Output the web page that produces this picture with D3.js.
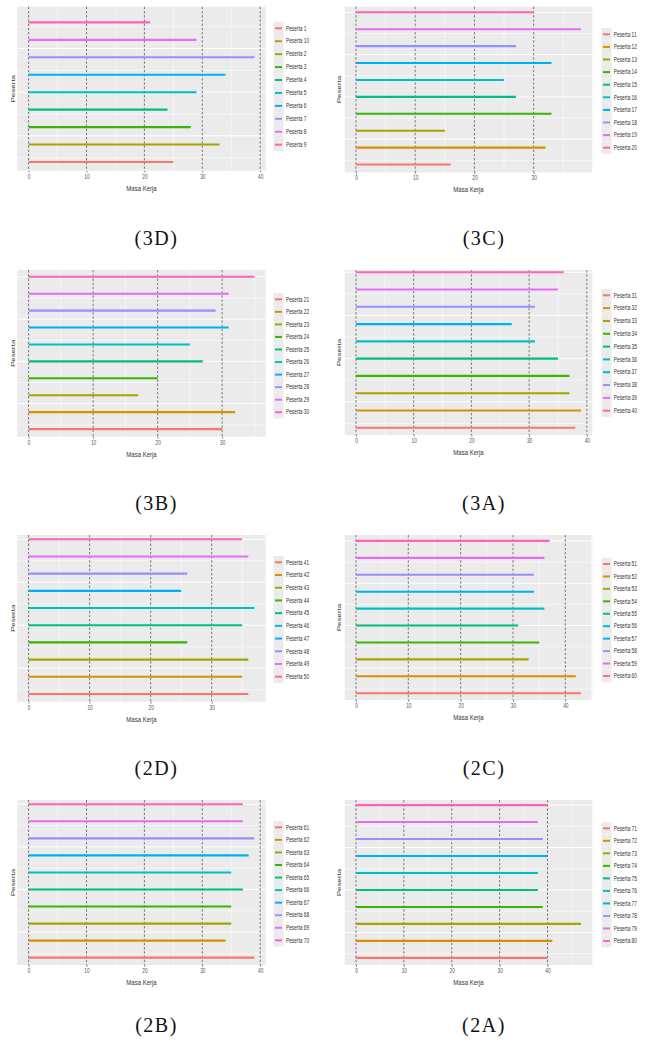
<!DOCTYPE html>
<html>
<head>
<meta charset="utf-8">
<script src="https://cdn.jsdelivr.net/npm/d3@7"></script>
<style>
  body { margin: 0; background: #fff; }
  svg { display: block; }
</style>
</head>
<body>
<script>
const W = 646, H = 1047;

// panel captions, in reading order
const panelIds = ["3D", "3C", "3B", "3A", "2D", "2C", "2B", "2A"];

// participants (legend order) and their Masa Kerja
const peserta3D = ["Peserta 1", "Peserta 10", "Peserta 2", "Peserta 3", "Peserta 4", "Peserta 5", "Peserta 6", "Peserta 7", "Peserta 8", "Peserta 9"];
const masa3D = [25, null, 33, 28, 24, 29, 34, 39, 29, 21];

const peserta3C = ["Peserta 11", "Peserta 12", "Peserta 13", "Peserta 14", "Peserta 15", "Peserta 16", "Peserta 17", "Peserta 18", "Peserta 19", "Peserta 20"];
const masa3C = [16, 32, 15, 33, 27, 25, 33, 27, 38, 30];

const peserta3B = ["Peserta 21", "Peserta 22", "Peserta 23", "Peserta 24", "Peserta 25", "Peserta 26", "Peserta 27", "Peserta 28", "Peserta 29", "Peserta 30"];
const masa3B = [30, 32, 17, 20, 27, 25, 31, 29, 31, 35];

const peserta3A = ["Peserta 31", "Peserta 32", "Peserta 33", "Peserta 34", "Peserta 35", "Peserta 36", "Peserta 37", "Peserta 38", "Peserta 39", "Peserta 40"];
const masa3A = [38, 39, 37, 37, 35, 31, 27, 31, 35, 36];

const peserta2D = ["Peserta 41", "Peserta 42", "Peserta 43", "Peserta 44", "Peserta 45", "Peserta 46", "Peserta 47", "Peserta 48", "Peserta 49", "Peserta 50"];
const masa2D = [36, 35, 36, 26, 35, 37, 25, 26, 36, 35];

const peserta2C = ["Peserta 51", "Peserta 52", "Peserta 53", "Peserta 54", "Peserta 55", "Peserta 56", "Peserta 57", "Peserta 58", "Peserta 59", "Peserta 60"];
const masa2C = [43, 42, 33, 35, 31, 36, 34, 34, 36, 37];

const peserta2B = ["Peserta 61", "Peserta 62", "Peserta 63", "Peserta 64", "Peserta 65", "Peserta 66", "Peserta 67", "Peserta 68", "Peserta 69", "Peserta 70"];
const masa2B = [39, 34, 35, 35, 37, 35, 38, 39, 37, 37];

const peserta2A = ["Peserta 71", "Peserta 72", "Peserta 73", "Peserta 74", "Peserta 75", "Peserta 76", "Peserta 77", "Peserta 78", "Peserta 79", "Peserta 80"];
const masa2A = [40, 41, 47, 39, 38, 38, 40, 39, 38, 40];

// first participant number of each panel (y position = number - first + 1)
const firstNo = [1, 11, 21, 31, 41, 51, 61, 71];

// y axis breaks (no labels shown)
const yMajor = [2.5, 5, 7.5, 10];
const yMinor = [1.25, 3.75, 6.25, 8.75];

// ggplot hue palette
const colors = ["#F8766D", "#D89000", "#A3A500", "#39B600", "#00BF7D", "#00BFC4", "#00B0F6", "#9590FF", "#E76BF3", "#FF62BC"];

const allNames = [peserta3D, peserta3C, peserta3B, peserta3A, peserta2D, peserta2C, peserta2B, peserta2A];
const allValues = [masa3D, masa3C, masa3B, masa3A, masa2D, masa2C, masa2B, masa2A];

// layout of each panel as measured on the page
const cols = [
  { x0: 17.3, x1: 265.7, keyX: 273.5, labelX: 286, titleX: 11.7, capX: 156.5 },
  { x0: 344.7, x1: 592.3, keyX: 601.5, labelX: 613.8, titleX: 338, capX: 484 }
];
const layout = [
  { y0: 6.7, y1: 170.7, yDom: [0.5, 9.9], legY: 28.3, legStep: 12.93, capY: 245 },
  { y0: 6.7, y1: 172.3, yDom: [0.54, 10.33], legY: 34.3, legStep: 12.6, capY: 245 },
  { y0: 270, y1: 436.7, yDom: [0.55, 10.4], legY: 299.3, legStep: 12.55, capY: 510 },
  { y0: 270, y1: 435, yDom: [0.58, 10.13], legY: 295.3, legStep: 12.82, capY: 510 },
  { y0: 535, y1: 701.7, yDom: [0.55, 10.25], legY: 562.3, legStep: 12.71, capY: 775 },
  { y0: 535, y1: 700, yDom: [0.6, 10.35], legY: 564, legStep: 12.44, capY: 775 },
  { y0: 800, y1: 965, yDom: [0.57, 10.25], legY: 827.3, legStep: 12.56, capY: 1032 },
  { y0: 800, y1: 965, yDom: [0.58, 10.3], legY: 828.3, legStep: 12.52, capY: 1032 }
];

const SQ = 0.75; // the source image is squeezed horizontally
const sans = "'Liberation Sans', Arial, sans-serif";

const svg = d3.select("body").append("svg")
  .attr("width", W)
  .attr("height", H);

function drawPanel(idx) {
  const col = cols[idx % 2];
  const lay = layout[idx];
  const names = allNames[idx];
  const values = allValues[idx];
  const g = svg.append("g");

  const maxV = d3.max(values);
  const x = d3.scaleLinear()
    .domain([-0.05 * maxV, 1.05 * maxV])
    .range([col.x0, col.x1]);
  const y = d3.scaleLinear()
    .domain(lay.yDom)
    .range([lay.y1, lay.y0]);

  const xTicks = x.ticks(5);
  const step = xTicks[1] - xTicks[0];
  const xMinor = xTicks.map(t => t + step / 2).filter(t => t <= x.domain()[1]);
  const inY = v => v >= lay.yDom[0] && v <= lay.yDom[1];

  // panel background
  g.append("rect")
    .attr("x", col.x0).attr("y", lay.y0)
    .attr("width", col.x1 - col.x0).attr("height", lay.y1 - lay.y0)
    .attr("fill", "#EBEBEB");

  // grid
  g.selectAll(".ymin").data(yMinor.filter(inY)).enter().append("line")
    .attr("x1", col.x0).attr("x2", col.x1)
    .attr("y1", d => y(d)).attr("y2", d => y(d))
    .attr("stroke", "#fff").attr("stroke-width", 0.5);
  g.selectAll(".ymaj").data(yMajor.filter(inY)).enter().append("line")
    .attr("x1", col.x0).attr("x2", col.x1)
    .attr("y1", d => y(d)).attr("y2", d => y(d))
    .attr("stroke", "#fff").attr("stroke-width", 1);
  g.selectAll(".xmin").data(xMinor).enter().append("line")
    .attr("x1", d => x(d)).attr("x2", d => x(d))
    .attr("y1", lay.y0).attr("y2", lay.y1)
    .attr("stroke", "#fff").attr("stroke-width", 0.5);
  g.selectAll(".xmaj").data(xTicks).enter().append("line")
    .attr("x1", d => x(d)).attr("x2", d => x(d))
    .attr("y1", lay.y0).attr("y2", lay.y1)
    .attr("stroke", "#fff").attr("stroke-width", 0.8);

  // dashed reference lines
  g.selectAll(".dash").data(xTicks).enter().append("line")
    .attr("x1", d => x(d)).attr("x2", d => x(d))
    .attr("y1", lay.y0).attr("y2", lay.y1)
    .attr("stroke", "#555").attr("stroke-width", 0.8)
    .attr("stroke-dasharray", "2.6,1.6");

  // segments
  const rows = names.map((n, i) => ({
    name: n,
    value: values[i],
    pos: +n.split(" ")[1] - firstNo[idx] + 1,
    color: colors[i]
  })).filter(d => d.value != null && inY(d.pos));

  g.selectAll(".seg").data(rows).enter().append("line")
    .attr("x1", x(0)).attr("x2", d => x(d.value))
    .attr("y1", d => y(d.pos)).attr("y2", d => y(d.pos))
    .attr("stroke", d => d.color)
    .attr("stroke-width", 2.1);

  // x axis
  const ax = g.append("g")
    .attr("transform", `translate(0,${lay.y1})`)
    .call(d3.axisBottom(x).ticks(5).tickSize(2).tickPadding(1.5));
  ax.select(".domain").remove();
  ax.selectAll(".tick line").attr("stroke", "#444").attr("stroke-width", 0.6);
  ax.selectAll(".tick text")
    .attr("fill", "#555")
    .attr("font-family", sans)
    .attr("font-size", 6.4)
    .attr("transform", `scale(${SQ},1)`);

  // axis titles
  g.append("text")
    .attr("transform", `translate(${(col.x0 + col.x1) / 2},${lay.y1 + 20}) scale(${SQ},1)`)
    .attr("text-anchor", "middle")
    .attr("font-family", sans).attr("font-size", 8)
    .attr("fill", "#333")
    .text("Masa Kerja");
  g.append("text")
    .attr("transform", `translate(${col.titleX + 2.8},${(lay.y0 + lay.y1) / 2}) scale(${SQ},1) rotate(-90)`)
    .attr("text-anchor", "middle")
    .attr("font-family", sans).attr("font-size", 8)
    .attr("fill", "#333")
    .text("Peserta");

  // legend
  const leg = g.append("g");
  names.forEach((n, i) => {
    const cy = lay.legY + i * lay.legStep;
    leg.append("rect")
      .attr("x", col.keyX).attr("y", cy - lay.legStep / 2)
      .attr("width", 10).attr("height", lay.legStep)
      .attr("fill", "#EBEBEB");
    leg.append("line")
      .attr("x1", col.keyX + 1.5).attr("x2", col.keyX + 8.5)
      .attr("y1", cy).attr("y2", cy)
      .attr("stroke", colors[i]).attr("stroke-width", 2);
    leg.append("text")
      .attr("transform", `translate(${col.labelX},${cy}) scale(${SQ},1)`)
      .attr("dy", "0.35em")
      .attr("font-family", sans).attr("font-size", 6.4)
      .attr("fill", "#333")
      .text(n);
  });

  // caption
  svg.append("text")
    .attr("x", col.capX).attr("y", lay.capY)
    .attr("text-anchor", "middle")
    .attr("font-family", "'Liberation Serif', 'Times New Roman', serif")
    .attr("font-size", 20)
    .attr("letter-spacing", 1.5)
    .attr("fill", "#111")
    .text("(" + panelIds[idx] + ")");
}

panelIds.forEach((id, i) => drawPanel(i));
</script>
</body>
</html>
